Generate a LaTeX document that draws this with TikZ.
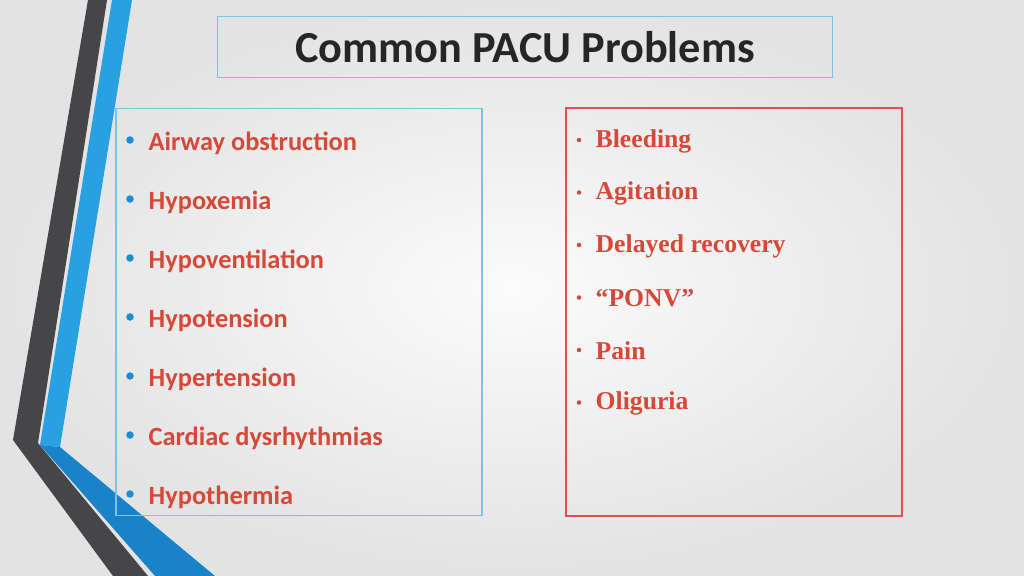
\documentclass[tikz,border=0pt]{standalone}
\usepackage{fontspec}
\setmainfont{Carlito}
\newfontfamily\serifb{Liberation Serif}
\definecolor{itemred}{RGB}{214,72,56}
\definecolor{bulblue}{RGB}{30,140,210}
\definecolor{frameblue}{RGB}{120,195,230}
\definecolor{framered}{RGB}{225,80,80}
\definecolor{darkstripe}{RGB}{70,70,72}
\definecolor{bluestripe}{RGB}{40,160,225}
\definecolor{bluestripeb}{RGB}{25,130,200}
\tikzset{
  litem/.style={anchor=west,font=\bfseries\fontsize{7.5pt}{8pt}\selectfont,text=itemred,inner sep=0pt},
  ritem/.style={anchor=west,font=\serifb\bfseries\fontsize{7.3pt}{8pt}\selectfont,text=itemred,inner sep=0pt},
  lbul/.style={circle,fill=bulblue,inner sep=0pt,minimum size=0.075cm},
  rbul/.style={circle,fill=itemred,inner sep=0pt,minimum size=0.045cm}
}
\begin{document}
\begin{tikzpicture}[x=0.01cm,y=-0.01cm]
\useasboundingbox (0,0) rectangle (1024,576);
\shade[inner color=gray!3,outer color=gray!22] (0,0) rectangle (1024,576);
% stripes
\fill[darkstripe] (88,0) -- (107,0) -- (38,443) -- (148,576) -- (113,576) -- (13,440) -- cycle;
\fill[bluestripe] (112,0) -- (132,0) -- (60,447) -- (40,445) -- cycle;
\fill[bluestripeb] (40,445) -- (60,447) -- (215,576) -- (155,576) -- cycle;
% title
\node[draw=frameblue,minimum width=6.15cm,minimum height=0.61cm,inner sep=0pt] (title) at (525,47)
  {\fontsize{12.6pt}{14pt}\selectfont\bfseries\color{black!85} Common PACU Problems};
\node[draw=frameblue,minimum width=3.66cm,minimum height=4.07cm] (lbox) at (299,312) {};
\node[draw=framered,minimum width=3.36cm,minimum height=4.08cm] (rbox) at (734,312) {};
% left items
\foreach \t [count=\i] in {Airway obstruction,Hypoxemia,Hypoventilation,Hypotension,Hypertension,Cardiac dysrhythmias,Hypothermia}{
  \node[lbul] (lb\i) at (130,{140+59*(\i-1)}) {};
  \node[litem] (lt\i) at (148,{143+59*(\i-1)}) {\t};
}
% right items
\foreach \t [count=\i] in {Bleeding,Agitation,Delayed recovery,“PONV”,Pain,Oliguria}{
  \node[rbul] (rb\i) at (579,{140+52.5*(\i-1)}) {};
  \node[ritem] (rt\i) at (595,{141+52.5*(\i-1)}) {\t};
}
\end{tikzpicture}
\end{document}
